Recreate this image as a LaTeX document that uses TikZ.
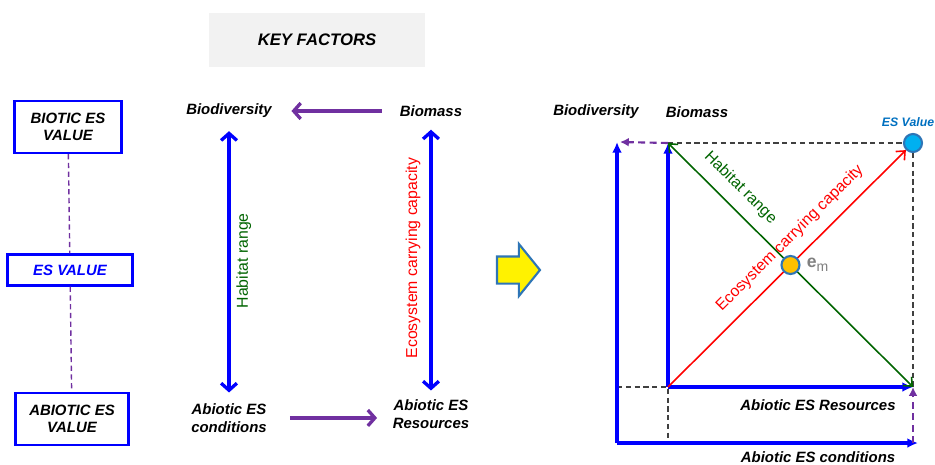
\documentclass[tikz,border=0pt]{standalone}
\usepackage{fontspec}
\setmainfont{Liberation Sans}
\usetikzlibrary{arrows,arrows.meta,calc,shapes,positioning}
\definecolor{kfpurple}{RGB}{112,48,160}
\definecolor{kfgreen}{RGB}{0,100,0}
\definecolor{kfgray}{RGB}{242,242,242}
\definecolor{esblue}{RGB}{0,112,192}
\definecolor{esfill}{RGB}{0,176,240}
\definecolor{ringblue}{RGB}{46,117,182}
\definecolor{emorange}{RGB}{255,192,0}
\definecolor{emgray}{RGB}{128,128,128}
\tikzset{
    valbox/.style = {draw=blue, line width=1.2pt, rectangle, align=center,
        minimum height=1.04cm, font=\fontsize{8.5}{10}\selectfont\bfseries\itshape},
    factor/.style = {align=center, font=\fontsize{8.5}{10}\selectfont\bfseries\itshape},
    link/.style = {draw, kfpurple, line width=1.9pt, -{Straight Barb[length=4pt,width=9pt]}},
    spanarr/.style = {draw, blue, line width=1.9pt,
        {Straight Barb[length=4pt,width=9pt]}-{Straight Barb[length=4pt,width=9pt]}},
    axis/.style = {draw, blue, line width=1.9pt, -{Latex[length=6pt,width=5.5pt]}},
    guide/.style = {draw, black!75, line width=0.8pt, dash pattern=on 3pt off 2pt},
    vline/.style = {draw, kfpurple, line width=0.8pt, dash pattern=on 3pt off 2pt},
    dot/.style = {circle, draw=ringblue, line width=1.2pt, minimum size=0.36cm, inner sep=0pt},
    lbl/.style = {font=\fontsize{9}{10}\selectfont}
}

\begin{document}
\begin{tikzpicture}[x=0.02cm, y=-0.02cm]
        \useasboundingbox (0,0) rectangle (935,464);
        \node [fill=kfgray, minimum width=4.32cm, minimum height=1.08cm,
            font=\fontsize{9.5}{11}\selectfont\bfseries\itshape] (title) at (317,40) {KEY FACTORS};
        % value column
        \node [valbox, minimum width=2.14cm] (bval) at (68,127) {BIOTIC ES\\VALUE};
        \node [valbox, minimum width=2.5cm, minimum height=0.62cm, text=blue] (esval) at (70,270) {ES VALUE};
        \node [valbox, minimum width=2.26cm] (aval) at (72,419) {ABIOTIC ES\\VALUE};
        \foreach \a/\b in {bval/esval,esval/aval}
            \draw [vline] (\a) -- (\b);
        % key factors
        \node [factor] (bio) at (229,111) {Biodiversity};
        \node [factor, right of=bio, node distance=4.04cm] (bms) {Biomass};
        \node [factor, below of=bio, node distance=6.14cm] (acond) {Abiotic ES\\conditions};
        \node [factor, below of=bms, node distance=6.06cm] (ares) {Abiotic ES\\Resources};
        \draw [link, shorten <=0.24cm, shorten >=0.27cm] (bms) -- (bio);
        \draw [link, shorten <=0.34cm, shorten >=0.19cm] (acond) -- (acond -| ares.west);
        \draw [spanarr, shorten <=0.14cm, shorten >=0.1cm] (bio) --
            node [midway, rotate=90, anchor=north, lbl, text=kfgreen] (hab) {Habitat range} (acond);
        \draw [spanarr, shorten <=0.14cm, shorten >=0.06cm] (bms) --
            node [midway, rotate=90, anchor=south, lbl, text=red, inner sep=5pt] (ecc) {Ecosystem carrying capacity} (ares);
        \node [single arrow, draw=ringblue, fill=yellow, line width=1.2pt, minimum height=0.86cm,
            inner sep=0pt, inner ysep=0.25cm, single arrow head extend=0.25cm,
            single arrow tip angle=102] (go) at (513,270) {};
        % ES value plane
        \coordinate (o1) at (617,443);
        \coordinate (o2) at (668,387);
        \coordinate (otop) at (617,142);
        \coordinate (itop) at (668,143);
        \coordinate (oend) at (918,443);
        \coordinate (iend) at (913,387);
        \node [dot, fill=esfill] (esv) at (913,143) {};
        \node [factor, font=\fontsize{7}{8}\selectfont\bfseries\itshape, text=esblue,
            above of=esv, node distance=0.42cm, xshift=-0.1cm] (esvl) {ES Value};
        \draw [guide] (itop) -- (esv);
        \draw [guide] (esv) -- (iend);
        \draw [guide] (o1 |- o2) -- (o2) -- (o2 |- o1);
        \draw [axis] (o1) -- (otop);
        \draw [axis] (o1) -- (oend);
        \draw [axis] (o2) -- (itop);
        \draw [axis] (o2) -- (iend);
        \draw [vline, line width=1.2pt, dash pattern=on 4pt off 2.5pt, -{Latex[length=5pt,width=5pt]}] (itop) -- ($(otop)+(3,0)$);
        \draw [vline, line width=1.2pt, dash pattern=on 4pt off 2.5pt, -{Latex[length=5pt,width=5pt]}] (o1 -| iend) -- (iend);
        \draw [kfgreen, line width=0.9pt,
            {Straight Barb[length=4pt,width=7pt]}-{Straight Barb[length=4pt,width=7pt]}] (itop) --
            node [pos=0.24, sloped, above=3pt, lbl] (habr) {Habitat range} (iend);
        \draw [red, line width=0.9pt, -{Straight Barb[length=4pt,width=7pt]}] (o2) --
            node [pos=0.57, sloped, above=3pt, lbl] (eccr) {Ecosystem carrying capacity} (esv);
        \node [dot, fill=emorange] (em) at ($(o2)!0.5!(esv)$) {};
        \node [right of=em, node distance=0.54cm, text=emgray] (eml)
            {{\fontsize{10}{12}\selectfont\bfseries e}{\fontsize{8}{9}\selectfont\raisebox{-2.5pt}{m}}};
        \node [factor] (bior) at (596,112) {Biodiversity};
        \node [factor] (bmsr) at (697,112) {Biomass};
        \node [factor] (aresr) at (818,405) {Abiotic ES Resources};
        \node [factor] (acondr) at (818,457) {Abiotic ES conditions};
\end{tikzpicture}
\end{document}
